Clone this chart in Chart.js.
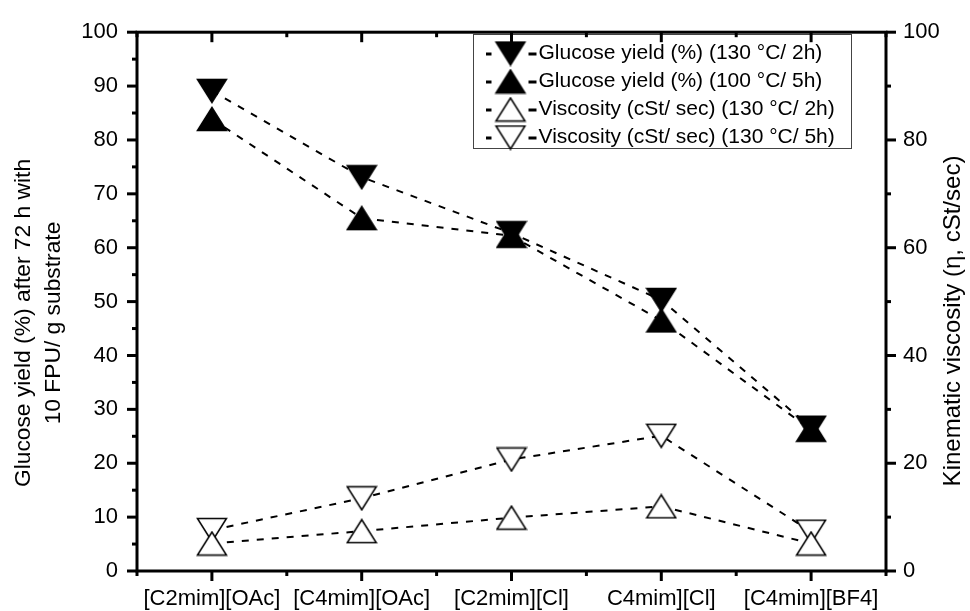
<!DOCTYPE html>
<html>
<head>
<meta charset="utf-8">
<script src="https://cdn.jsdelivr.net/npm/chart.js@4.4.1/dist/chart.umd.min.js"></script>
<style>
  html, body { margin: 0; padding: 0; background: #fff; }
  #wrap { width: 970px; height: 611px; }
</style>
</head>
<body>
<div id="wrap"><canvas id="chart" width="970" height="611"></canvas></div>
<script>
// categories (ionic liquids) - label text kept as printed in the figure
const ionicLiquids = ['[C2mim][OAc]', '[C4mim][OAc]', '[C2mim][Cl]', 'C4mim][Cl]', '[C4mim][BF4]'];

// glucose yield, left axis (%)
const glucose130_2h = [89.1, 73.1, 62.7, 50.3, 26.6];
const glucose100_5h = [83.9, 65.5, 62.2, 46.5, 26.2];
// kinematic viscosity, right axis (cSt/sec)
const visc130_2h = [5.1, 7.4, 9.9, 12.0, 5.1];
const visc130_5h = [7.6, 13.5, 20.7, 25.1, 7.3];

const seriesNames = [
  'Glucose yield (%) (130 °C/ 2h)',
  'Glucose yield (%) (100 °C/ 5h)',
  'Viscosity (cSt/ sec) (130 °C/ 2h)',
  'Viscosity (cSt/ sec) (130 °C/ 5h)'
];

const leftTicks = [0, 10, 20, 30, 40, 50, 60, 70, 80, 90, 100];
const rightTicks = [0, 20, 40, 60, 80, 100];

const FONT = 'Liberation Sans, Arial, sans-serif';
Chart.defaults.font.family = FONT;
Chart.defaults.color = '#000';

// triangle marker, centred on its bounding box like Origin does
function triangle(up, filled) {
  const c = document.createElement('canvas');
  c.width = 32; c.height = 26;
  const g = c.getContext('2d');
  g.beginPath();
  if (up) { g.moveTo(16, 1.5); g.lineTo(30.5, 24.5); g.lineTo(1.5, 24.5); }
  else { g.moveTo(1.5, 1.5); g.lineTo(30.5, 1.5); g.lineTo(16, 24.5); }
  g.closePath();
  g.fillStyle = filled ? '#000' : '#fff';
  g.fill();
  g.lineWidth = 1.5;
  g.strokeStyle = '#000';
  g.stroke();
  return c;
}

// legend icon: -triangle-
function legendIcon(up, filled) {
  const c = document.createElement('canvas');
  c.width = 54; c.height = 26;
  const g = c.getContext('2d');
  g.fillStyle = '#000';
  g.fillRect(0, 12, 8, 3);
  g.fillRect(45, 12, 8, 3);
  g.drawImage(triangle(up, filled), 11, 0);
  return c;
}

const markers = [triangle(false, true), triangle(true, true), triangle(true, false), triangle(false, false)];
const icons = [legendIcon(false, true), legendIcon(true, true), legendIcon(true, false), legendIcon(false, false)];

function series(i, data, axis) {
  return {
    label: seriesNames[i],
    data: data,
    yAxisID: axis,
    borderColor: '#000',
    borderWidth: 2,
    borderDash: [7, 8],
    pointStyle: markers[i],
    pointRadius: 12,
    pointHoverRadius: 12,
    fill: false,
    tension: 0
  };
}

const decor = {
  id: 'decor',
  beforeDraw(chart) {
    const ctx = chart.ctx;
    ctx.save();
    ctx.fillStyle = '#fff';
    ctx.fillRect(0, 0, chart.width, chart.height);
    ctx.fillRect(473, 34, 378, 114);
    ctx.strokeStyle = '#444';
    ctx.lineWidth = 1;
    ctx.strokeRect(473.5, 34.5, 378, 114);
    ctx.restore();
    // put the legend in the upper right of the plot
    const lg = chart.legend;
    lg.left = 486; lg.top = 36; lg.right = 860; lg.bottom = 170;
  },
  afterDraw(chart) {
    const { ctx, chartArea: a, scales } = chart;
    ctx.save();
    ctx.strokeStyle = '#000';
    ctx.lineWidth = 3;
    ctx.strokeRect(a.left, a.top, a.right - a.left, a.bottom - a.top);
    const line = (x1, y1, x2, y2) => { ctx.beginPath(); ctx.moveTo(x1, y1); ctx.lineTo(x2, y2); ctx.stroke(); };
    for (let v = 0; v <= 100; v += 5) {
      const y = scales.y.getPixelForValue(v);
      line(a.left, y, a.left - (v % 10 ? 5 : 10), y);
    }
    for (let v = 0; v <= 100; v += 10) {
      const y = scales.y2.getPixelForValue(v);
      line(a.right, y, a.right + (v % 20 ? 5 : 10), y);
    }
    for (let k = -0.5; k <= ionicLiquids.length - 0.5; k += 0.5) {
      const x = scales.x.getPixelForValue(k);
      const len = Number.isInteger(k) ? 10 : 5;
      line(x, a.bottom, x, a.bottom + len);
      line(x, a.top, x, a.top + len);
    }
    // axis titles
    ctx.fillStyle = '#000';
    ctx.textAlign = 'center';
    ctx.textBaseline = 'middle';
    ctx.font = '22.8px ' + FONT;
    ctx.translate(24, 323);
    ctx.rotate(-Math.PI / 2);
    ctx.fillText('Glucose yield (%) after 72 h with', 0, 0);
    ctx.fillText('10 FPU/ g substrate', 0, 30);
    ctx.setTransform(1, 0, 0, 1, 0, 0);
    ctx.font = '24px ' + FONT;
    ctx.translate(953, 321);
    ctx.rotate(-Math.PI / 2);
    ctx.fillText('Kinematic viscosity (\u03b7, cSt/sec)', 0, 0);
    ctx.restore();
  }
};

new Chart(document.getElementById('chart').getContext('2d'), {
  type: 'line',
  data: {
    labels: ionicLiquids,
    datasets: [
      series(0, glucose130_2h, 'y'),
      series(1, glucose100_5h, 'y'),
      series(2, visc130_2h, 'y2'),
      series(3, visc130_5h, 'y2')
    ]
  },
  options: {
    responsive: false,
    devicePixelRatio: 1,
    animation: false,
    layout: { padding: { top: 21, left: 0, right: 0, bottom: 0 } },
    scales: {
      x: {
        type: 'category',
        offset: true,
        grid: { display: false, drawTicks: false },
        border: { display: false },
        ticks: { font: { size: 22 }, padding: 15, maxRotation: 0, autoSkip: false, color: '#000' },
        afterFit: s => { s.height = 40; }
      },
      y: {
        position: 'left',
        min: 0, max: 100,
        grid: { display: false, drawTicks: false },
        border: { display: false },
        ticks: { font: { size: 22 }, padding: 19, color: '#000' },
        afterBuildTicks: s => { s.ticks = leftTicks.map(v => ({ value: v })); },
        afterFit: s => { s.width = 137; }
      },
      y2: {
        position: 'right',
        min: 0, max: 100,
        grid: { display: false, drawTicks: false },
        border: { display: false },
        ticks: { font: { size: 22 }, padding: 17, color: '#000' },
        afterBuildTicks: s => { s.ticks = rightTicks.map(v => ({ value: v })); },
        afterFit: s => { s.width = 84; }
      }
    },
    plugins: {
      tooltip: { enabled: false },
      legend: {
        position: 'chartArea',
        align: 'start',
        labels: {
          usePointStyle: true,
          pointStyleWidth: 35,
          padding: 7,
          color: '#000',
          font: { size: 21 },
          generateLabels: () => seriesNames.map((name, i) => ({
            text: name, pointStyle: icons[i], fillStyle: '#000', strokeStyle: '#000',
            lineWidth: 0, hidden: false, datasetIndex: i, fontColor: '#000'
          }))
        }
      }
    }
  },
  plugins: [decor]
});
</script>
</body>
</html>
